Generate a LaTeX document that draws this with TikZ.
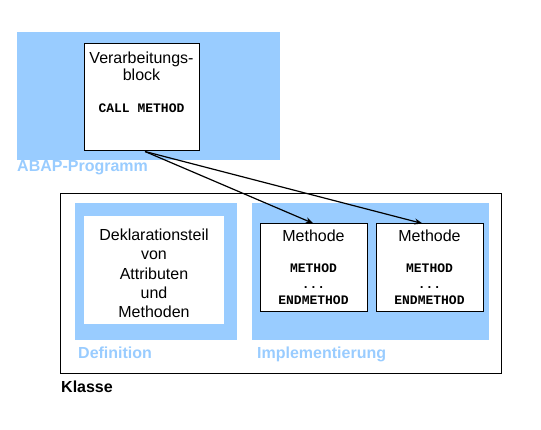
\documentclass[tikz,border=0pt]{standalone}
\usepackage{fontspec}
\setmainfont{Liberation Sans}
\setmonofont{Liberation Mono}
\usetikzlibrary{arrows.meta}
\definecolor{abapblue}{HTML}{99CCFF}
\tikzset{
  whitebox/.style={draw, line width=1pt, fill=white, inner sep=0pt},
  txt/.style={inner sep=0pt, anchor=base, font=\fontsize{16}{19}\selectfont},
  code/.style={inner sep=0pt, anchor=base, font=\fontsize{13}{16}\selectfont\ttfamily\bfseries},
  lbl/.style={inner sep=0pt, anchor=base west, text=abapblue, font=\fontsize{16}{19}\selectfont\bfseries},
  call/.style={line width=1.2pt, -{Stealth[length=8pt,width=6pt]}}
}
\begin{document}
\begin{tikzpicture}[x=1pt,y=-1pt]
        \useasboundingbox (0,0) rectangle (541,430);
        \fill [abapblue]  (17,32) rectangle (280,160);                                   %ABAP-Programm
        \node [whitebox, minimum width=115, minimum height=107] (vb) at (141.5,97.5) {};
        \node [txt]  (vb1) at (141.5,63.3)  {Verarbeitungs-};                             %
        \node [txt]  (vb2) at (141.5,80.7)  {block};                                      %
        \node [code] (vb3) at (141.5,112.7) {CALL METHOD};                                %
        \node [lbl]  (abap) at (17,172)     {ABAP-Programm};                              %
        \draw [line width=1pt] (60,194) rectangle (501,374);                              %Klasse
        \node [inner sep=0pt, anchor=base west, font=\fontsize{16}{19}\selectfont\bfseries] (klasse) at (61,392) {Klasse};
        \fill [abapblue]  (75,203) rectangle (237,340);                                   %Definition
        \node [fill=white, inner sep=0pt, minimum width=140, minimum height=108] (decl) at (154,270) {};
        \node [txt]  (decl1) at (154,241)   {Deklarationsteil};                           %
        \node [txt]  (decl2) at (154,260)   {von};                                        %
        \node [txt]  (decl3) at (154,279.3) {Attributen};                                 %
        \node [txt]  (decl4) at (154,298.3) {und};                                        %
        \node [txt]  (decl5) at (154,317.3) {Methoden};                                   %
        \node [lbl]  (def) at (78,359)      {Definition};                                 %
        \fill [abapblue]  (252,203) rectangle (489,340);                                  %Implementierung
        \node [whitebox, minimum width=107, minimum height=88] (m1) at (313.5,268) {};   %Methode 1
        \node [txt]  (m1a) at (313.5,241.7) {Methode};                                    %
        \node [code] (m1b) at (313.5,273)   {METHOD};                                     %
        \node [code] (m1c) at (313.5,289)   {...};                                        %
        \node [code] (m1d) at (313.5,305)   {ENDMETHOD};                                  %
        \node [whitebox, minimum width=107, minimum height=88] (m2) at (429.5,268) {};   %Methode 2
        \node [txt]  (m2a) at (429.5,241.7) {Methode};                                    %
        \node [code] (m2b) at (429.5,273)   {METHOD};                                     %
        \node [code] (m2c) at (429.5,289)   {...};                                        %
        \node [code] (m2d) at (429.5,305)   {ENDMETHOD};                                  %
        \node [lbl]  (impl) at (257,359)    {Implementierung};                            %
        \draw [call] ([xshift=3.5pt]vb.south) -- (m1.north);                              %CALL METHOD
        \draw [call] ([xshift=3.5pt]vb.south) -- ([xshift=-7pt]m2.north);                 %
       \end{tikzpicture}
\end{document}
